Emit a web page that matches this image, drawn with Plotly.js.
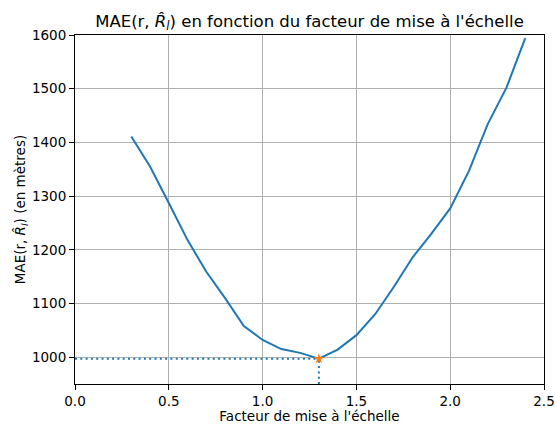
<!DOCTYPE html>
<html>
<head>
<meta charset="utf-8">
<script src="https://cdn.plot.ly/plotly-3.0.1.min.js"></script>
<style>html,body{margin:0;padding:0;background:#fff;}#chart{width:555px;height:424px;}</style>
</head>
<body>
<div id="chart"></div>
<script>
const scaleFactors = [0.3,0.4,0.5,0.6,0.7,0.8,0.9,1.0,1.1,1.2,1.3,1.4,1.5,1.6,1.7,1.8,1.9,2.0,2.1,2.2,2.3,2.4];
const maeValues = [1411,1355,1287,1218,1159,1110,1058,1032,1015,1008,997,1014,1041,1080,1131,1186,1230,1277,1347,1434,1502,1594];
const xTickVals = [0,0.5,1.0,1.5,2.0,2.5];
const xTickText = ["0.0","0.5","1.0","1.5","2.0","2.5"];
const yTickVals = [1000,1100,1200,1300,1400,1500,1600];
const xRange = [0, 2.5];
const yRange = [950, 1600];

let minIdx = 0;
for (let i = 1; i < maeValues.length; i++) if (maeValues[i] < maeValues[minIdx]) minIdx = i;
const bestX = scaleFactors[minIdx], bestY = maeValues[minIdx];

const blue = '#1f77b4', orange = '#ff7f0e';
const font = {family: 'DejaVu Sans, sans-serif', size: 13.5, color: '#000'};

const traces = [
  {x: scaleFactors, y: maeValues, mode: 'lines', line: {color: blue, width: 2}, hoverinfo: 'skip'},
  {x: [xRange[0], bestX], y: [bestY, bestY], mode: 'lines', line: {color: blue, width: 2, dash: '2px,3.3px'}},
  {x: [bestX, bestX], y: [yRange[0], bestY], mode: 'lines', line: {color: blue, width: 2, dash: '2px,3.3px'}},
  {x: [bestX], y: [bestY], mode: 'markers', marker: {symbol: 'star', color: orange, size: 8}}
];

const axisCommon = {
  showline: true, mirror: true, linecolor: '#000', linewidth: 1,
  ticks: 'outside', ticklen: 5, tickwidth: 1, tickcolor: '#000',
  showgrid: true, gridcolor: '#b0b0b0', gridwidth: 1,
  zeroline: false, tickfont: font
};

const layout = {
  width: 555, height: 424,
  margin: {l: 75, r: 11, t: 35, b: 40},
  paper_bgcolor: '#fff', plot_bgcolor: '#fff',
  showlegend: false,
  font: font,
  title: {text: "MAE(r, <i>R̂</i><sub><i>l</i></sub>) en fonction du facteur de mise à l'échelle",
          font: {family: 'DejaVu Sans, sans-serif', size: 16.5, color: '#000'},
          x: 0.5, xref: 'paper', y: 1, yref: 'paper', yanchor: 'bottom', pad: {b: 8}},
  xaxis: Object.assign({}, axisCommon, {
    range: xRange, tickvals: xTickVals, ticktext: xTickText,
    title: {text: "Facteur de mise à l'échelle", font: font, standoff: 6}
  }),
  yaxis: Object.assign({}, axisCommon, {
    range: yRange, tickvals: yTickVals,
    title: {text: "MAE(r, <i>R̂</i><sub><i>l</i></sub>) (en mètres)", font: font, standoff: 3}
  })
};

Plotly.newPlot('chart', traces, layout, {displayModeBar: false, staticPlot: true});
</script>
</body>
</html>
